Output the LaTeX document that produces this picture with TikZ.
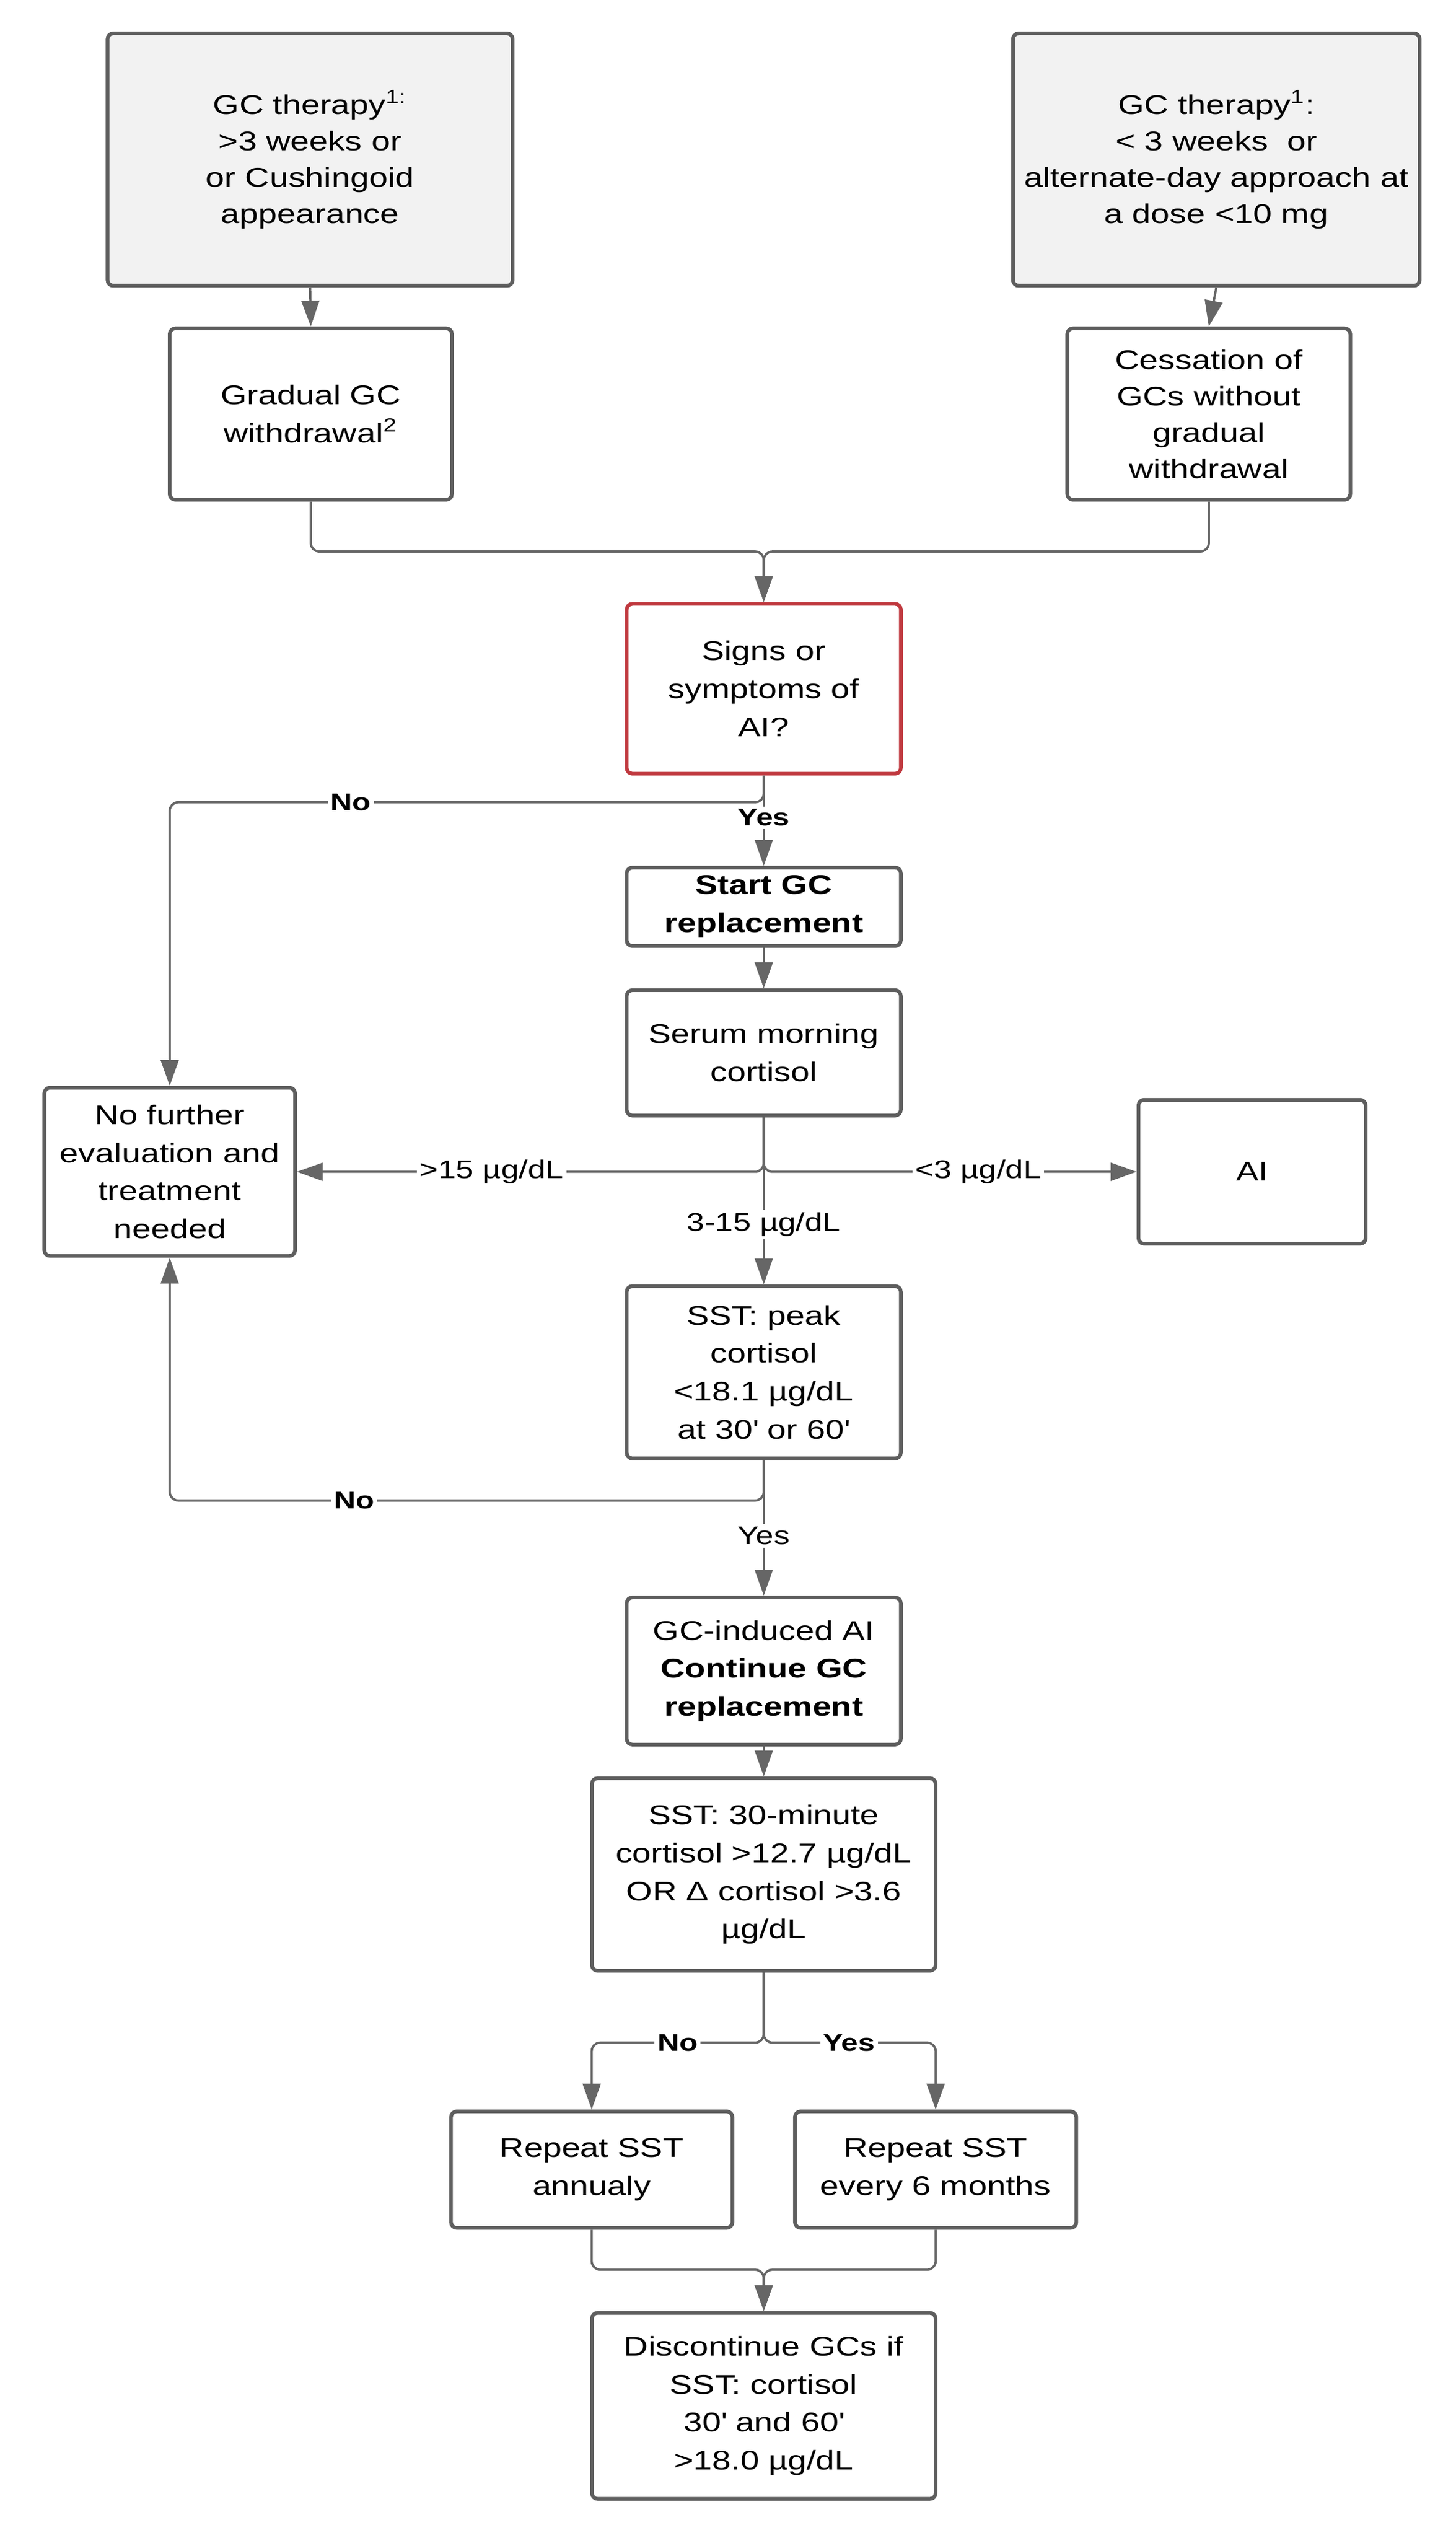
\documentclass[tikz,border=0pt]{standalone}
\usepackage{fontspec}
\setmainfont[FakeStretch=1.25]{Liberation Sans}
\usepackage{xcolor}
\usepackage{tikz}
\usetikzlibrary{arrows.meta}
\definecolor{boxgray}{HTML}{5E5E5E}
\definecolor{linegray}{HTML}{666666}
\definecolor{gcfill}{HTML}{F2F2F2}
\definecolor{signred}{HTML}{C0393F}

\begin{document}
\begin{tikzpicture}[
    flowbox/.style={rectangle, rounded corners=2pt, draw=boxgray, line width=1.3pt, fill=white, align=center, inner sep=2pt, font=\fontsize{9.5}{13.4}\selectfont},
    tightbox/.style={flowbox, font=\fontsize{9.5}{12.8}\selectfont},
    gcbox/.style={tightbox, fill=gcfill},
    redbox/.style={flowbox, draw=signred},
    arrow/.style={-{Triangle[length=3.2mm, width=2.2mm]}, line width=0.8pt, draw=linegray, rounded corners=3pt},
    lbl/.style={fill=white, inner sep=1pt, font=\fontsize{8.5}{10}\selectfont\bfseries},
    lblreg/.style={fill=white, inner sep=1pt, font=\fontsize{9}{11}\selectfont}
]
\useasboundingbox (0,0) rectangle (18,-31.384);

% Starting therapies
\node[gcbox, minimum width=5.01cm, minimum height=3.12cm] (gclong) at (3.835,-1.973) {GC therapy\textsuperscript{1:}\\>3 weeks or\\or Cushingoid\\appearance};
\node[gcbox, minimum width=5.03cm, minimum height=3.12cm] (gcshort) at (15.043,-1.973) {GC therapy\textsuperscript{1}:\\< 3 weeks~ or\\alternate-day approach at\\a dose <10 mg};
\node[flowbox, minimum width=3.49cm, minimum height=2.12cm] (gradual) at (3.844,-5.12) {Gradual GC\\withdrawal\textsuperscript{2}};
\node[tightbox, minimum width=3.5cm, minimum height=2.12cm] (cessation) at (14.95,-5.12) {Cessation of\\GCs without\\gradual\\withdrawal};

% Main column
\node[redbox, minimum width=3.39cm, minimum height=2.1cm] (signs) at (9.446,-8.517) {Signs or\\symptoms of\\AI?};
\node[flowbox, minimum width=3.39cm, minimum height=0.97cm] (startgc) at (9.446,-11.213) {\bfseries Start GC\\\bfseries replacement};
\node[flowbox, minimum width=3.39cm, minimum height=1.55cm] (serum) at (9.446,-13.019) {Serum morning\\cortisol};
\node[flowbox, minimum width=3.1cm, minimum height=2.08cm] (nofurther) at (2.099,-14.49) {No further\\evaluation and\\treatment\\needed};
\node[flowbox, minimum width=2.81cm, minimum height=1.78cm] (ai) at (15.485,-14.49) {AI};
\node[flowbox, minimum width=3.39cm, minimum height=2.13cm] (sstpeak) at (9.446,-16.969) {SST: peak\\cortisol\\<18.1 µg/dL\\at 30\textquotesingle{} or 60\textquotesingle};
\node[flowbox, minimum width=3.39cm, minimum height=1.82cm] (gcinduced) at (9.446,-20.663) {GC-induced AI\\\textbf{Continue GC}\\\textbf{replacement}};
\node[flowbox, minimum width=4.25cm, minimum height=2.38cm] (sstthirty) at (9.446,-23.179) {SST: 30-minute\\cortisol >12.7 µg/dL\\OR Δ cortisol >3.6\\µg/dL};
\node[flowbox, minimum width=3.48cm, minimum height=1.44cm] (annual) at (7.318,-26.829) {Repeat SST\\annualy};
\node[flowbox, minimum width=3.48cm, minimum height=1.44cm] (sixmonths) at (11.572,-26.829) {Repeat SST\\every 6 months};
\node[flowbox, minimum width=4.25cm, minimum height=2.3cm] (discontinue) at (9.446,-29.75) {Discontinue GCs if\\SST: cortisol\\30\textquotesingle{} and 60\textquotesingle\\>18.0 µg/dL};

% Junction points
\coordinate (jtop) at (9.446,-6.82);
\coordinate (jsigns) at (9.446,-9.92);
\coordinate (jserum) at (9.446,-14.49);
\coordinate (jsst) at (9.446,-18.554);
\coordinate (jthirty) at (9.446,-25.258);
\coordinate (jbottom) at (9.446,-28.066);

% Connectors
\draw[arrow] (gclong.south) -- (gradual.north);
\draw[arrow] (gcshort.south) -- (cessation.north);
\draw[arrow] (gradual.south) |- (jtop) -- (signs.north);
\draw[arrow] (cessation.south) |- (jtop) -- (signs.north);
\draw[arrow] (signs.south) -- (jsigns) -| (nofurther.north);
\draw[arrow] (signs.south) -- (startgc.north);
\draw[arrow] (startgc.south) -- (serum.north);
\draw[arrow] (serum.south) -- (jserum) -- (nofurther.east);
\draw[arrow] (serum.south) -- (jserum) -- (ai.west);
\draw[arrow] (serum.south) -- (sstpeak.north);
\draw[arrow] (sstpeak.south) -- (jsst) -| (nofurther.south);
\draw[arrow] (sstpeak.south) -- (gcinduced.north);
\draw[arrow] (gcinduced.south) -- (sstthirty.north);
\draw[arrow] (sstthirty.south) -- (jthirty) -| (annual.north);
\draw[arrow] (sstthirty.south) -- (jthirty) -| (sixmonths.north);
\draw[arrow] (annual.south) |- (jbottom) -- (discontinue.north);
\draw[arrow] (sixmonths.south) |- (jbottom) -- (discontinue.north);

% Connector labels
\node[lbl] (nosigns) at (4.34,-9.92) {No};
\node[lbl] (yessigns) at (9.446,-10.11) {Yes};
\node[lblreg] (high) at (6.08,-14.49) {>15 µg/dL};
\node[lblreg] (low) at (12.1,-14.49) {<3 µg/dL};
\node[lblreg] (mid) at (9.446,-15.14) {3-15 µg/dL};
\node[lbl] (nosst) at (4.38,-18.554) {No};
\node[lblreg] (yessst) at (9.446,-18.99) {Yes};
\node[lbl] (nothirty) at (8.38,-25.258) {No};
\node[lbl] (yesthirty) at (10.5,-25.258) {Yes};

\end{tikzpicture}
\end{document}
